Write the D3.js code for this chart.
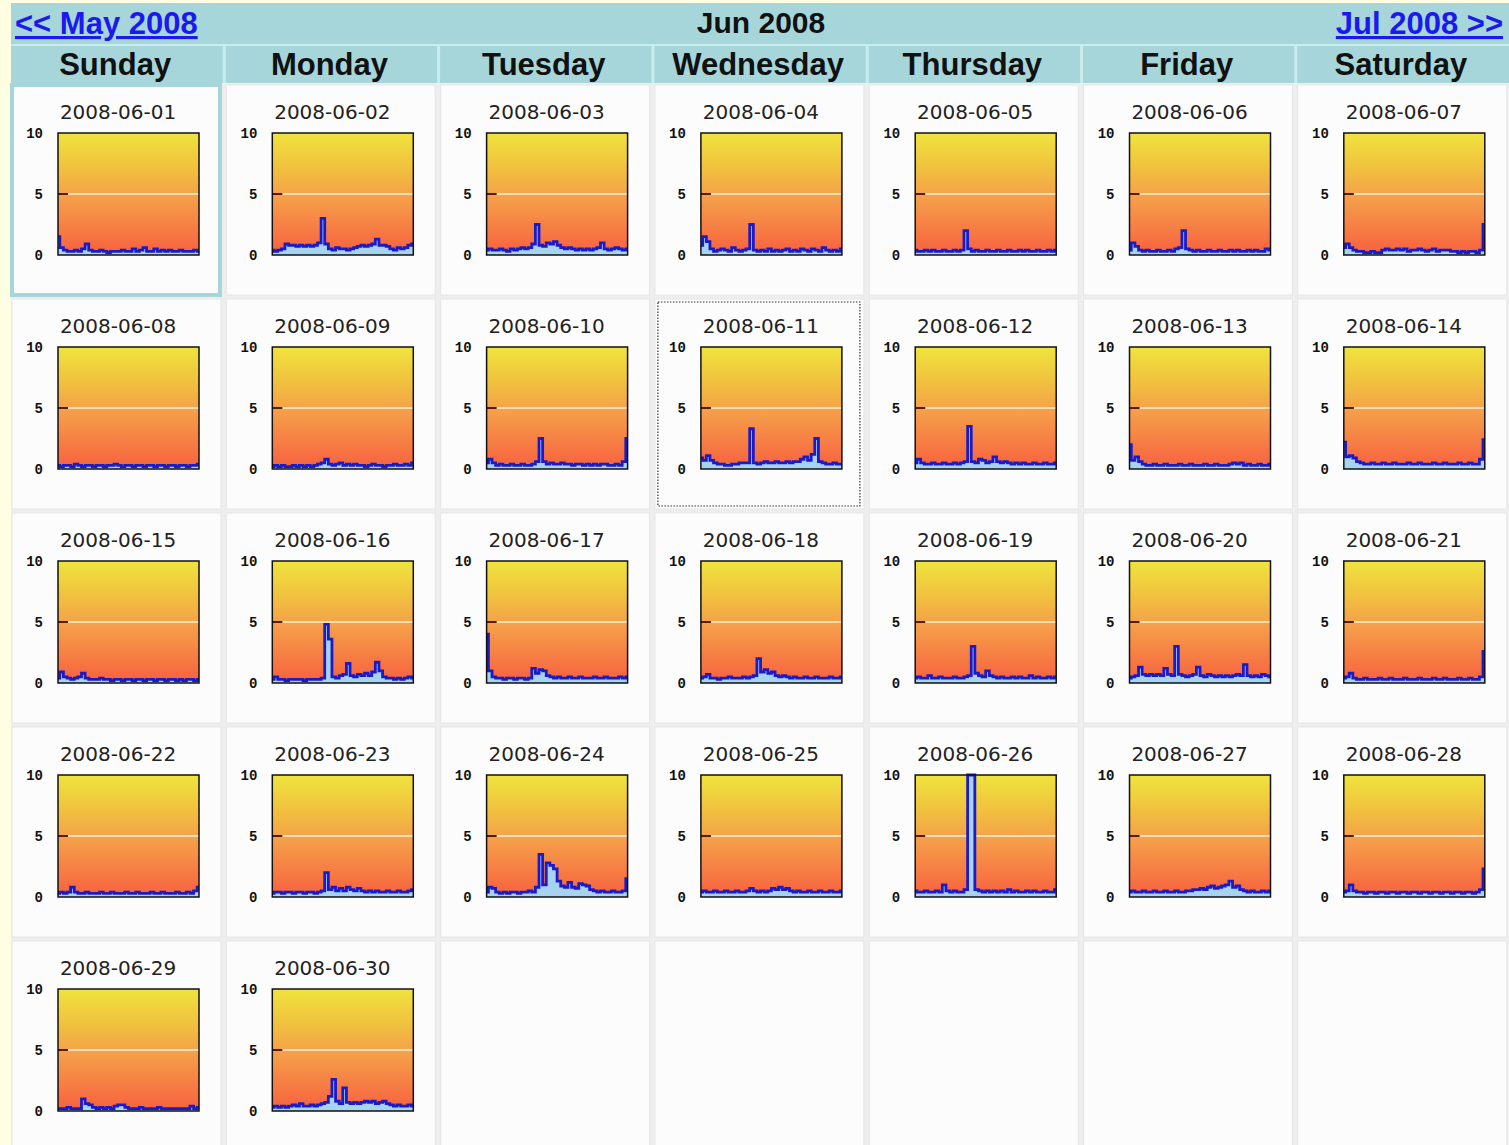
<!DOCTYPE html>
<html>
<head>
<meta charset="utf-8">
<script src="https://cdn.jsdelivr.net/npm/d3@7"></script>
<style>
  body { margin: 0; background: #fffee2; }
  #vis { width: 1509px; height: 1145px; overflow: hidden; }
</style>
</head>
<body>
<div id="vis"></div>
<script>
var width = 1509;
var height = 1145;

var monthTitle = "Jun 2008";
var prevLabel = "<< May 2008";
var nextLabel = "Jul 2008 >>";
var dayNames = ["Sunday", "Monday", "Tuesday", "Wednesday", "Thursday", "Friday", "Saturday"];
var yTicks = [0, 5, 10];
var firstWeekday = 0;   // 2008-06-01 is a Sunday
var todayIndex = 0;     // highlighted cell (teal)
var focusIndex = 10;    // dotted cell

// one reading per slot for each day
var series = [
  [1.5,0.6,0.4,0.3,0.3,0.4,0.3,0.5,0.9,0.4, 0.3,0.3,0.4,0.3,0.2,0.3,0.3,0.3,0.4,0.3, 0.3,0.5,0.3,0.4,0.6,0.3,0.3,0.5,0.3,0.4, 0.3,0.4,0.3,0.3,0.4,0.3,0.3,0.3,0.4,0.3],
  [0.4,0.3,0.4,0.5,0.9,0.8,0.8,0.7,0.8,0.7, 0.8,0.7,0.8,1.0,3.0,0.9,0.5,0.4,0.6,0.5, 0.5,0.4,0.5,0.6,0.7,0.8,0.7,0.8,0.9,1.3, 0.8,0.8,0.7,0.5,0.4,0.6,0.5,0.6,0.8,0.9],
  [0.4,0.5,0.4,0.4,0.5,0.4,0.3,0.5,0.4,0.5, 0.6,0.5,0.6,0.9,2.5,0.8,0.7,1.0,0.9,1.1, 0.8,0.6,0.5,0.6,0.5,0.4,0.5,0.4,0.5,0.4, 0.5,0.6,1.0,0.5,0.4,0.5,0.6,0.5,0.4,0.5],
  [0.8,1.5,1.1,0.5,0.3,0.4,0.5,0.4,0.3,0.6, 0.4,0.3,0.4,0.5,2.5,0.4,0.3,0.4,0.3,0.5, 0.3,0.4,0.3,0.4,0.5,0.3,0.4,0.3,0.5,0.4, 0.3,0.5,0.4,0.3,0.6,0.4,0.3,0.4,0.3,0.5],
  [0.4,0.3,0.3,0.4,0.3,0.4,0.3,0.3,0.4,0.3, 0.3,0.4,0.3,0.4,2.0,0.5,0.3,0.4,0.3,0.3, 0.4,0.3,0.3,0.4,0.3,0.3,0.4,0.3,0.3,0.4, 0.3,0.4,0.3,0.3,0.4,0.3,0.3,0.4,0.3,0.4],
  [0.4,1.0,0.7,0.4,0.3,0.4,0.3,0.3,0.4,0.3, 0.3,0.4,0.3,0.5,0.6,2.0,0.5,0.4,0.3,0.4, 0.3,0.3,0.4,0.3,0.3,0.4,0.3,0.3,0.4,0.3, 0.4,0.3,0.3,0.4,0.3,0.4,0.3,0.3,0.5,0.4],
  [0.6,0.9,0.6,0.4,0.3,0.3,0.2,0.2,0.3,0.2, 0.2,0.4,0.5,0.4,0.4,0.5,0.4,0.5,0.3,0.4, 0.4,0.5,0.4,0.3,0.4,0.5,0.3,0.4,0.4,0.4, 0.3,0.3,0.2,0.3,0.2,0.3,0.3,0.2,0.4,2.5],
  [0.3,0.2,0.3,0.3,0.2,0.4,0.3,0.2,0.3,0.3, 0.2,0.3,0.3,0.2,0.3,0.3,0.4,0.3,0.2,0.3, 0.3,0.2,0.3,0.3,0.2,0.3,0.3,0.2,0.3,0.3, 0.2,0.3,0.3,0.2,0.3,0.3,0.2,0.3,0.3,0.4],
  [0.2,0.3,0.2,0.3,0.2,0.2,0.3,0.2,0.3,0.2, 0.3,0.2,0.3,0.4,0.5,0.8,0.4,0.3,0.4,0.5, 0.3,0.4,0.3,0.4,0.3,0.3,0.2,0.3,0.4,0.3, 0.3,0.2,0.3,0.3,0.4,0.3,0.3,0.4,0.3,0.5],
  [0.5,0.8,0.5,0.3,0.4,0.3,0.3,0.4,0.3,0.3, 0.4,0.3,0.3,0.4,0.6,2.5,0.6,0.4,0.5,0.4, 0.4,0.5,0.4,0.4,0.3,0.4,0.4,0.3,0.4,0.3, 0.4,0.3,0.4,0.4,0.3,0.3,0.4,0.3,0.6,2.5],
  [0.9,0.7,1.1,0.7,0.5,0.4,0.4,0.3,0.3,0.4, 0.4,0.5,0.5,0.5,3.3,0.5,0.4,0.5,0.6,0.5, 0.5,0.6,0.5,0.5,0.6,0.5,0.6,0.6,0.8,1.0, 0.7,1.2,2.5,0.6,0.5,0.4,0.4,0.5,0.4,0.4],
  [0.5,0.8,0.5,0.4,0.4,0.5,0.4,0.4,0.5,0.4, 0.4,0.5,0.4,0.5,0.6,3.5,0.6,0.5,0.8,0.7, 0.5,0.6,1.0,0.6,0.5,0.6,0.5,0.4,0.5,0.4, 0.5,0.4,0.4,0.5,0.4,0.4,0.5,0.4,0.4,0.5],
  [2.0,0.7,1.0,0.6,0.4,0.3,0.3,0.4,0.3,0.3, 0.4,0.3,0.3,0.3,0.4,0.3,0.3,0.4,0.3,0.3, 0.3,0.4,0.3,0.3,0.4,0.3,0.3,0.3,0.4,0.5, 0.4,0.5,0.3,0.4,0.3,0.3,0.4,0.3,0.3,0.4],
  [2.2,1.0,1.1,0.9,0.6,0.5,0.4,0.4,0.5,0.4, 0.4,0.5,0.4,0.4,0.5,0.4,0.4,0.4,0.5,0.4, 0.4,0.5,0.4,0.4,0.4,0.5,0.4,0.4,0.5,0.4, 0.4,0.4,0.5,0.4,0.4,0.5,0.4,0.4,0.8,2.4],
  [0.4,0.9,0.5,0.4,0.3,0.4,0.5,0.8,0.4,0.3, 0.3,0.3,0.4,0.3,0.3,0.2,0.3,0.3,0.2,0.3, 0.3,0.2,0.3,0.3,0.2,0.3,0.3,0.2,0.3,0.3, 0.2,0.3,0.3,0.2,0.3,0.2,0.3,0.3,0.2,0.3],
  [0.3,0.5,0.3,0.3,0.2,0.3,0.3,0.3,0.3,0.2, 0.3,0.3,0.3,0.3,0.4,4.8,3.6,0.5,0.4,0.6, 0.7,1.6,0.6,0.5,0.7,0.6,0.8,0.6,0.9,1.7, 1.0,0.5,0.4,0.4,0.3,0.4,0.3,0.4,0.5,0.4],
  [4.0,1.0,0.5,0.4,0.4,0.3,0.4,0.4,0.3,0.4, 0.4,0.3,0.4,1.2,0.8,1.1,1.0,0.6,0.5,0.4, 0.5,0.4,0.4,0.5,0.4,0.4,0.5,0.4,0.4,0.4, 0.5,0.4,0.4,0.5,0.4,0.4,0.4,0.5,0.4,0.5],
  [0.4,0.5,0.7,0.4,0.4,0.3,0.4,0.4,0.5,0.4, 0.4,0.4,0.5,0.4,0.5,0.6,2.0,0.9,1.1,0.8, 0.9,0.6,0.5,0.6,0.5,0.4,0.5,0.4,0.4,0.5, 0.4,0.4,0.5,0.4,0.4,0.4,0.5,0.4,0.4,0.5],
  [0.4,0.5,0.4,0.4,0.6,0.4,0.4,0.5,0.4,0.4, 0.4,0.5,0.4,0.4,0.5,0.6,3.0,0.8,0.6,0.5, 1.0,0.6,0.5,0.4,0.5,0.4,0.4,0.5,0.4,0.5, 0.4,0.4,0.6,0.4,0.5,0.4,0.4,0.5,0.4,0.5],
  [0.4,0.5,0.6,1.3,0.7,0.6,0.7,0.6,0.7,0.6, 1.2,0.7,0.6,3.0,0.7,0.6,0.5,0.6,0.7,1.3, 0.6,0.5,0.7,0.6,0.5,0.6,0.5,0.6,0.5,0.6, 0.7,0.6,1.5,0.6,0.5,0.6,0.5,0.7,0.6,0.5],
  [0.4,0.5,0.8,0.4,0.3,0.3,0.4,0.3,0.3,0.3, 0.4,0.3,0.3,0.4,0.3,0.3,0.3,0.4,0.3,0.3, 0.3,0.4,0.3,0.3,0.3,0.4,0.3,0.3,0.4,0.3, 0.3,0.3,0.4,0.3,0.3,0.4,0.3,0.3,0.5,2.6],
  [0.3,0.4,0.3,0.4,0.8,0.4,0.3,0.3,0.4,0.3, 0.3,0.3,0.4,0.3,0.3,0.4,0.3,0.3,0.3,0.4, 0.3,0.3,0.4,0.3,0.3,0.3,0.4,0.3,0.3,0.4, 0.3,0.3,0.3,0.4,0.3,0.3,0.4,0.3,0.5,0.8],
  [0.3,0.4,0.4,0.3,0.4,0.4,0.3,0.4,0.4,0.3, 0.4,0.4,0.3,0.4,0.5,2.0,0.6,0.8,0.5,0.7, 0.5,0.8,0.6,0.5,0.7,0.5,0.4,0.5,0.4,0.5, 0.4,0.4,0.5,0.4,0.4,0.5,0.4,0.4,0.5,0.6],
  [0.4,0.8,0.7,0.4,0.3,0.4,0.3,0.4,0.4,0.3, 0.4,0.4,0.5,0.4,0.8,3.5,1.0,2.8,2.6,2.3, 1.3,0.9,0.8,1.2,0.8,0.7,1.1,1.0,0.9,0.6, 0.5,0.4,0.5,0.4,0.4,0.5,0.4,0.4,0.5,1.5],
  [0.4,0.5,0.4,0.4,0.5,0.4,0.4,0.5,0.4,0.4, 0.5,0.4,0.4,0.5,0.7,0.5,0.4,0.5,0.4,0.5, 0.7,0.6,0.8,0.6,0.7,0.5,0.4,0.5,0.4,0.4, 0.5,0.4,0.4,0.5,0.4,0.4,0.5,0.4,0.4,0.5],
  [0.5,0.4,0.4,0.5,0.4,0.4,0.5,0.4,1.0,0.5, 0.4,0.5,0.4,0.4,0.6,10,10,0.6,0.5,0.4, 0.5,0.4,0.5,0.4,0.5,0.4,0.6,0.4,0.5,0.4, 0.4,0.5,0.4,0.5,0.4,0.4,0.5,0.4,0.4,0.6],
  [0.4,0.5,0.4,0.4,0.5,0.4,0.4,0.5,0.4,0.4, 0.5,0.4,0.4,0.5,0.4,0.4,0.5,0.5,0.6,0.6, 0.7,0.6,0.8,0.9,0.7,0.8,0.9,1.0,1.3,0.8, 0.9,0.6,0.5,0.4,0.5,0.4,0.4,0.5,0.4,0.5],
  [0.4,0.5,1.0,0.5,0.4,0.4,0.3,0.4,0.4,0.3, 0.4,0.4,0.3,0.4,0.4,0.3,0.4,0.4,0.3,0.4, 0.4,0.3,0.4,0.4,0.3,0.4,0.4,0.3,0.4,0.4, 0.3,0.4,0.4,0.3,0.4,0.4,0.3,0.4,0.6,2.3],
  [0.2,0.2,0.2,0.3,0.2,0.2,0.2,1.0,0.6,0.5, 0.3,0.2,0.3,0.2,0.3,0.2,0.4,0.5,0.5,0.3, 0.2,0.2,0.2,0.3,0.2,0.2,0.2,0.2,0.3,0.2, 0.2,0.2,0.2,0.2,0.2,0.2,0.2,0.4,0.2,0.3],
  [0.3,0.4,0.3,0.4,0.3,0.4,0.5,0.4,0.6,0.4, 0.4,0.5,0.4,0.5,0.6,0.7,1.2,2.6,0.8,0.6, 1.9,0.7,0.6,0.7,0.6,0.7,0.8,0.7,0.8,0.6, 0.7,0.8,0.6,0.5,0.4,0.5,0.4,0.4,0.5,0.4]
];

var dates = series.map(function(d, i) {
  return "2008-06-" + (i + 1 < 10 ? "0" : "") + (i + 1);
});

var tableLeft = 11;
var colPitch = 214.3;
var rowTop = 85;
var rowPitch = 214;
var cellW = 209;
var cellH = 210;

var plot = { left: 46, top: 48, width: 141, height: 122 };

var svg = d3.select('#vis')
  .append('svg')
  .attr('width', width)
  .attr('height', height);

var defs = svg.append('defs');
var grad = defs.append('linearGradient')
  .attr('id', 'bg-grad')
  .attr('x1', 0).attr('y1', 0)
  .attr('x2', 0).attr('y2', 1);
grad.append('stop').attr('offset', '0%').attr('stop-color', '#efe43e');
grad.append('stop').attr('offset', '30%').attr('stop-color', '#f1bf3f');
grad.append('stop').attr('offset', '52%').attr('stop-color', '#f5a04a');
grad.append('stop').attr('offset', '100%').attr('stop-color', '#f8603f');

// table background
svg.append('rect')
  .attr('x', tableLeft)
  .attr('y', 3)
  .attr('width', width - tableLeft)
  .attr('height', height)
  .attr('fill', '#eeeeee');

// month header row
svg.append('rect')
  .attr('x', tableLeft)
  .attr('y', 3)
  .attr('width', width - tableLeft)
  .attr('height', 80)
  .attr('fill', '#a6d6da');

svg.append('line')
  .attr('x1', tableLeft).attr('x2', width)
  .attr('y1', 45).attr('y2', 45)
  .attr('stroke', '#c9ecee')
  .attr('stroke-width', 2);

svg.append('text')
  .attr('x', 15)
  .attr('y', 34)
  .attr('fill', '#1a1aee')
  .style('font-family', 'Liberation Sans, Arial, sans-serif')
  .style('font-weight', 'bold')
  .style('font-size', '31px')
  .style('text-decoration', 'underline')
  .text(prevLabel);

svg.append('text')
  .attr('x', 761)
  .attr('y', 33)
  .attr('text-anchor', 'middle')
  .attr('fill', '#111')
  .style('font-family', 'Liberation Sans, Arial, sans-serif')
  .style('font-weight', 'bold')
  .style('font-size', '30px')
  .text(monthTitle);

svg.append('text')
  .attr('x', 1503)
  .attr('y', 34)
  .attr('text-anchor', 'end')
  .attr('fill', '#1a1aee')
  .style('font-family', 'Liberation Sans, Arial, sans-serif')
  .style('font-weight', 'bold')
  .style('font-size', '31px')
  .style('text-decoration', 'underline')
  .text(nextLabel);

// day name row
var x_col = d3.scaleBand()
  .domain(dayNames)
  .range([tableLeft, tableLeft + colPitch * 7]);

svg.selectAll('.col-sep')
  .data(dayNames.slice(1))
  .enter()
  .append('line')
  .attr('class', 'col-sep')
  .attr('x1', function(d) { return x_col(d) - 1; })
  .attr('x2', function(d) { return x_col(d) - 1; })
  .attr('y1', 46).attr('y2', 83)
  .attr('stroke', '#c9ecee')
  .attr('stroke-width', 3);

svg.selectAll('.day-name')
  .data(dayNames)
  .enter()
  .append('text')
  .attr('class', 'day-name')
  .attr('x', function(d) { return x_col(d) + x_col.bandwidth() / 2 - 3; })
  .attr('y', 75)
  .attr('text-anchor', 'middle')
  .attr('fill', '#111')
  .style('font-family', 'Liberation Sans, Arial, sans-serif')
  .style('font-weight', 'bold')
  .style('font-size', '31px')
  .text(function(d) { return d; });

// cells (5 weeks)
var cells = d3.range(35).map(function(i) {
  var dayIdx = i - firstWeekday;
  return {
    col: i % 7,
    row: Math.floor(i / 7),
    index: dayIdx,
    values: (dayIdx >= 0 && dayIdx < series.length) ? series[dayIdx] : null
  };
});

var y_scale = d3.scaleLinear()
  .domain([0, 10])
  .range([plot.height, 0]);

var y_axis = d3.axisLeft(y_scale)
  .tickValues(yTicks)
  .tickSize(0)
  .tickPadding(15);

var cell = svg.selectAll('.cell')
  .data(cells)
  .enter()
  .append('g')
  .attr('class', 'cell')
  .attr('transform', function(d) {
    return 'translate(' + (tableLeft + 1 + d.col * colPitch) + ',' + (rowTop + d.row * rowPitch) + ')';
  });

cell.append('rect')
  .attr('width', cellW)
  .attr('height', cellH)
  .attr('fill', '#fcfcfc')
  .attr('stroke', '#e6e6e6')
  .attr('stroke-width', 1);

cell.each(function(d) {
  var g = d3.select(this);

  if (d.index === todayIndex) {
    g.append('rect')
      .attr('x', 0).attr('y', 0)
      .attr('width', cellW - 1).attr('height', cellH)
      .attr('fill', 'none')
      .attr('stroke', '#a6d6da')
      .attr('stroke-width', 4);
  }
  if (d.index === focusIndex) {
    g.append('rect')
      .attr('x', 3).attr('y', 3)
      .attr('width', cellW - 7).attr('height', cellH - 6)
      .attr('fill', 'none')
      .attr('stroke', '#333')
      .attr('stroke-width', 1.2)
      .attr('stroke-dasharray', '1.5,1.5');
  }

  if (!d.values) return;

  g.append('text')
    .attr('x', 106)
    .attr('y', 34)
    .attr('text-anchor', 'middle')
    .attr('fill', '#222')
    .style('font-family', 'DejaVu Sans, sans-serif')
    .style('font-size', '20px')
    .text(dates[d.index]);

  var p = g.append('g')
    .attr('transform', 'translate(' + plot.left + ',' + plot.top + ')');

  var x_scale = d3.scaleLinear()
    .domain([0, d.values.length - 1])
    .range([0, plot.width]);

  p.append('rect')
    .attr('width', plot.width)
    .attr('height', plot.height)
    .attr('fill', 'url(#bg-grad)');

  p.append('line')
    .attr('x1', 10).attr('x2', plot.width)
    .attr('y1', y_scale(5)).attr('y2', y_scale(5))
    .attr('stroke', '#fff2d8')
    .attr('stroke-width', 1.5);

  var area = d3.area()
    .x(function(v, i) { return x_scale(i); })
    .y0(y_scale(0))
    .y1(function(v) { return y_scale(v); })
    .curve(d3.curveStep);

  var line = d3.line()
    .x(function(v, i) { return x_scale(i); })
    .y(function(v) { return y_scale(v); })
    .curve(d3.curveStep);

  p.append('path')
    .datum(d.values)
    .attr('d', area)
    .attr('fill', '#a5d3f0');

  p.append('path')
    .datum(d.values)
    .attr('d', line)
    .attr('fill', 'none')
    .attr('stroke', '#1a1ac8')
    .attr('stroke-width', 2.8);

  p.append('line')
    .attr('x1', 0).attr('x2', 10)
    .attr('y1', y_scale(5)).attr('y2', y_scale(5))
    .attr('stroke', '#5a1a10')
    .attr('stroke-width', 2);

  p.append('rect')
    .attr('width', plot.width)
    .attr('height', plot.height)
    .attr('fill', 'none')
    .attr('stroke', '#111')
    .attr('stroke-width', 1.5);

  var ax = p.append('g')
    .attr('class', 'y axis')
    .call(y_axis);
  ax.select('.domain').remove();
  ax.selectAll('text')
    .attr('fill', '#111')
    .style('font-family', 'Liberation Mono, monospace')
    .style('font-weight', 'bold')
    .style('font-size', '14px');
});
</script>
</body>
</html>
